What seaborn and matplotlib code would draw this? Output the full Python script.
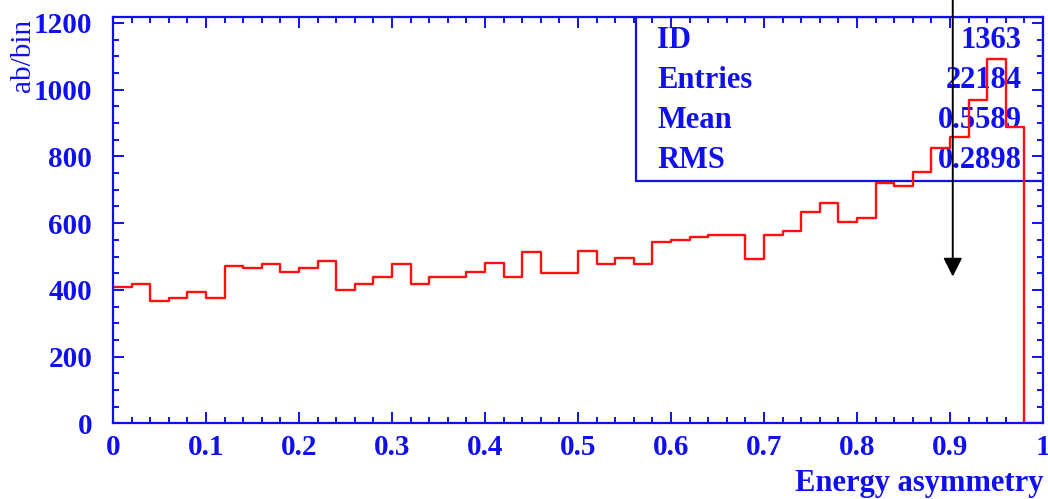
import numpy as np
import pandas as pd
import matplotlib
matplotlib.use("Agg")
import matplotlib.pyplot as plt
from matplotlib.patches import Rectangle
from matplotlib.ticker import MultipleLocator
import seaborn as sns

# Histogram contents: 50 bins of width 0.02 over [0, 1]
bin_edges = [round(0.02 * i, 2) for i in range(51)]
bin_counts = [409, 417, 367, 377, 394, 377, 471, 465, 478, 453,
              465, 487, 399, 417, 438, 478, 417, 438, 438, 454,
              482, 438, 514, 450, 450, 516, 477, 497, 477, 543,
              548, 559, 565, 565, 493, 564, 576, 632, 659, 602,
              614, 721, 711, 753, 826, 859, 969, 1092, 887, 0]

# Statistics box contents
stat_names = ["ID", "Entries", "Mean", "RMS"]
stat_values = ["1363", "22184", "0.5589", "0.2898"]

# Cut position marked by the arrow
cut_x = 0.903
cut_y = 440

x_label = "Energy asymmetry"
y_label = "ab/bin"

BLUE = "#1010ee"
RED = "#ff1010"

sns.set_style("ticks")
plt.rcParams["font.family"] = ["Liberation Serif", "DejaVu Serif"]
plt.rcParams["font.weight"] = "bold"

centers = [(bin_edges[i] + bin_edges[i + 1]) / 2 for i in range(len(bin_counts))]
df = pd.DataFrame({"asym": centers, "w": bin_counts})

fig = plt.figure(figsize=(10.48, 4.99), dpi=100)
ax = fig.add_axes([0.1078, 0.1517, 0.8874, 0.8136])

sns.histplot(data=df, x="asym", weights="w", bins=bin_edges,
             element="step", fill=False, color=RED, linewidth=1.7, ax=ax)

ax.set_xlim(0, 1)
ax.set_ylim(0, 1217)

ax.xaxis.set_minor_locator(MultipleLocator(0.02))
ax.yaxis.set_minor_locator(MultipleLocator(50))
ax.set_xticks(np.round(np.arange(0, 1.01, 0.1), 1))
ax.set_xticklabels(["0", "0.1", "0.2", "0.3", "0.4", "0.5", "0.6", "0.7", "0.8", "0.9", "1"])
ax.set_yticks(range(0, 1201, 200))
ax.set_yticklabels([str(v) for v in range(0, 1201, 200)])

ax.tick_params(which="both", direction="in", top=True, right=True,
               color=BLUE, labelcolor=BLUE, labelsize=21)
ax.tick_params(which="major", length=8, width=1.4)
ax.tick_params(which="minor", length=4.5, width=1.4)
ax.tick_params(axis="x", which="major", pad=8)
ax.tick_params(axis="y", which="major", pad=15)
for lab in ax.get_xticklabels() + ax.get_yticklabels():
    lab.set_fontweight("bold")
for sp in ax.spines.values():
    sp.set_color(BLUE)
    sp.set_linewidth(1.6)

ax.set_xlabel("")
ax.set_ylabel("")
fig.text(0.9952, 0.032, x_label, ha="right", va="center", color=BLUE,
         fontsize=22, fontweight="bold")
fig.text(0.022, 0.962, y_label, ha="center", va="top", rotation=90,
         color=BLUE, fontsize=21, fontweight="normal")

# Statistics box in the upper right corner
box = Rectangle((0.5624, 0.597), 1 - 0.5624, 0.403, transform=ax.transAxes,
                fill=False, edgecolor=BLUE, linewidth=1.6, zorder=0.5)
ax.add_patch(box)
row_y = [0.944, 0.845, 0.747, 0.648]
for name, val, yy in zip(stat_names, stat_values, row_y):
    ax.text(0.585, yy, name, transform=ax.transAxes, ha="left", va="center",
            color=BLUE, fontsize=22, fontweight="bold", zorder=0.6)
    ax.text(0.977, yy, val, transform=ax.transAxes, ha="right", va="center",
            color=BLUE, fontsize=22, fontweight="bold", zorder=0.6)

# Arrow marking the cut value
ax.annotate("", xy=(cut_x, cut_y), xycoords="data",
            xytext=(cut_x, 1.0), textcoords=("data", "figure fraction"),
            arrowprops=dict(arrowstyle="-|>,head_length=0.75,head_width=0.38",
                            color="black", lw=1.4, shrinkA=0, shrinkB=0,
                            mutation_scale=15),
            annotation_clip=False)

fig.savefig("out.png", dpi=100, facecolor="white")
